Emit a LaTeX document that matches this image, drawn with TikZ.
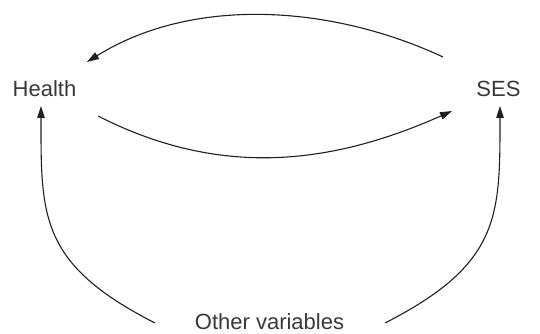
\documentclass[tikz,border=0pt]{standalone}
\usepackage{fontspec}
\setmainfont{Liberation Sans}
\usepackage{tikz}
\usetikzlibrary{arrows.meta}

\tikzset{
  var/.style={anchor=base, inner sep=0pt, text=black!78},
  link/.style={-{Triangle[length=12pt, width=7.5pt]}, line width=1.1pt, black!88},
}

\begin{document}
\begin{tikzpicture}[x=1pt, y=1pt, font=\fontsize{22}{26}\selectfont]
\useasboundingbox (0,0) rectangle (540,334);
% ---- variables ----
\node[var] (health) at (44.5,237) {Health};
\node[var] (ses) at (498.5,237) {SES};
\node[var] (other) at (269.5,4.5) {Other variables};
% ---- two-way link between health and SES ----
\draw[link] ([shift={(-55.5,40)}]ses.base)
  .. controls +(155:124) and +(32:124) .. ([shift={(42.5,35)}]health.base);
\draw[link] ([shift={(53.5,-19)}]health.base)
  .. controls +(-27:135) and +(204:135) .. ([shift={(-46.5,-14)}]ses.base);
% ---- common causes ----
\draw[link] ([shift={(-114.5,6.5)}]other.base)
  .. controls +(153:130) and +(0,-110) .. ([shift={(-3.5,-9)}]health.base);
\draw[link] ([shift={(115.5,6.5)}]other.base)
  .. controls +(27:130) and +(0,-110) .. ([shift={(1.5,-9)}]ses.base);
\end{tikzpicture}
\end{document}
